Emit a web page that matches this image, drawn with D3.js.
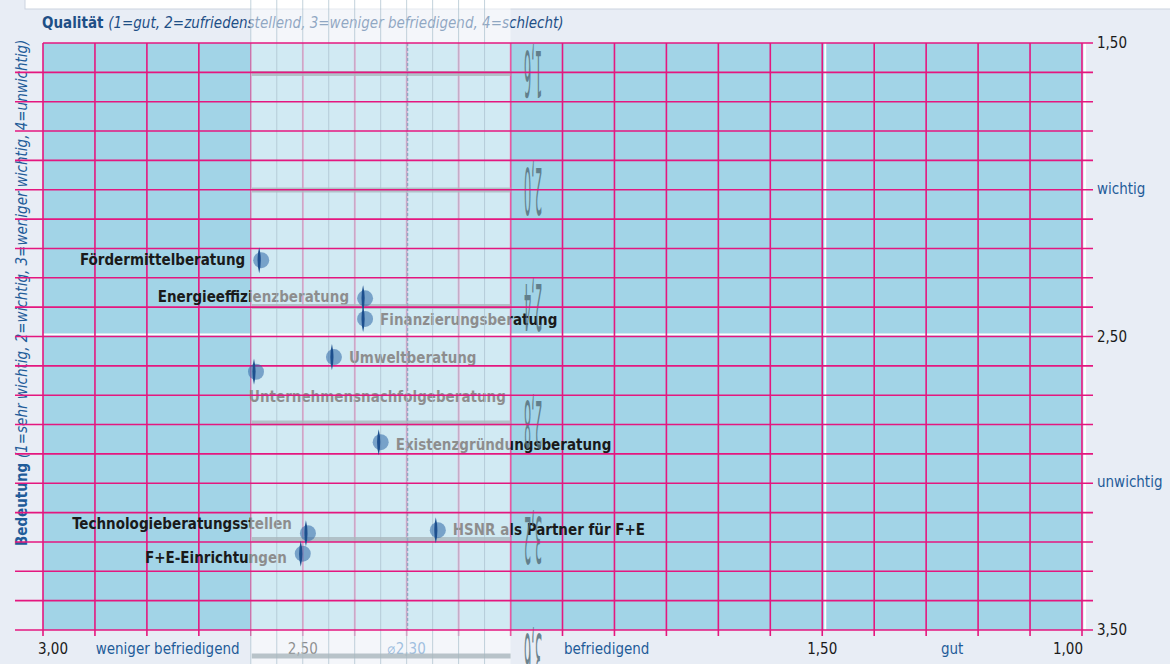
<!DOCTYPE html>
<html>
<head>
<meta charset="utf-8">
<script src="https://cdn.jsdelivr.net/npm/d3@7"></script>
<style>
  body { margin: 0; background: #e8edf5; }
  svg { display: block; }
  text { font-family: "DejaVu Sans Condensed", "DejaVu Sans", sans-serif; }
</style>
</head>
<body>
<div id="chart"></div>
<script>
// values
var services = ["Fördermittelberatung", "Energieeffizienzberatung", "Finanzierungsberatung",
    "Umweltberatung", "Unternehmensnachfolgeberatung", "Existenzgründungsberatung",
    "Technologieberatungsstellen", "F+E-Einrichtungen", "HSNR als Partner für F+E"];
var quality    = [2.58, 2.38, 2.38, 2.44, 2.59, 2.35, 2.49, 2.50, 2.24];
var importance = [2.24, 2.37, 2.44, 2.57, 2.62, 2.86, 3.17, 3.24, 3.16];
var qualityAvg = 2.30;

var xTickValues = [3.0, 2.5, 1.5, 1.0];
var xTickText   = ["3,00", "2,50", "1,50", "1,00"];
var xCatText = ["weniger befriedigend", "befriedigend", "gut"];
var xCatAt   = [2.76, 1.915, 1.25];

var yTickValues = [1.5, 2.5, 3.5];
var yTickText   = ["1,50", "2,50", "3,50"];
var yCatText = ["wichtig", "unwichtig"];
var yCatAt   = [2.0, 3.0];

// ghost panel in the middle (band of an other chart lying over this one)
var bandRange = [2.6, 2.1];
var ghostText = ["1,6", "2,0", "2,4", "2,8", "3,2", "3,6"];
var ghostAt   = [1.6, 2.0, 2.4, 2.8, 3.2, 3.6];

// label placement: side of the dot and small vertical nudge
var labelSide  = ["left", "left", "right", "right", "below", "right", "left", "left", "right"];
var labelNudge = [0, -1, 1, 1, 0, 3, -9, 4, 0];

var W = 1170, H = 664;
var magenta = "#e4177f", blueText = "#1f5c99";

var svg = d3.select("#chart").append("svg")
    .attr("width", W).attr("height", H);

var x = d3.scaleLinear().domain([3, 1]).range([43, 1082]);
var y = d3.scaleLinear().domain([1.5, 3.5]).range([43, 630]);
var gy = d3.scaleLinear().domain([1.6, 3.6]).range([73.5, 656]);

var data = services.map(function(s, i) {
    return {name: s, q: quality[i], b: importance[i], side: labelSide[i], dy: labelNudge[i]};
});

// top box (cut off element above)
svg.append("rect")
    .attr("x", 25).attr("y", -2).attr("width", W).attr("height", 11)
    .attr("fill", "#ffffff").attr("stroke", "#cbd3df");

// plot background
svg.append("rect")
    .attr("x", x(3)).attr("y", y(1.5))
    .attr("width", x(1) - x(3)).attr("height", y(3.5) - y(1.5))
    .attr("fill", "#a2d4e7");

// white major lines
[1.5, 1.0].forEach(function(v) {
    svg.append("line")
        .attr("x1", x(v) + 3).attr("x2", x(v) + 3)
        .attr("y1", y(1.5)).attr("y2", y(3.5))
        .attr("stroke", "#ffffff").attr("stroke-width", 2);
});
svg.append("line")
    .attr("x1", x(3)).attr("x2", x(1))
    .attr("y1", y(2.5) - 2).attr("y2", y(2.5) - 2)
    .attr("stroke", "#ffffff").attr("stroke-width", 2);

// vertical grid + ticks below
svg.append("g").selectAll("line")
    .data(x.ticks(20))
    .enter().append("line")
    .attr("x1", function(d) { return x(d); })
    .attr("x2", function(d) { return x(d); })
    .attr("y1", y(1.5)).attr("y2", y(3.5) + 6)
    .attr("stroke", magenta).attr("stroke-width", 1.6);

// title
var title = svg.append("text")
    .attr("x", 42).attr("y", 28)
    .attr("font-size", 15).attr("fill", "#1e4f86");
title.append("tspan").attr("font-weight", "bold").text("Qualität ");
title.append("tspan").attr("font-style", "italic").text("(1=gut, 2=zufriedenstellend, 3=weniger befriedigend, 4=schlecht)");

var ytitle = svg.append("text")
    .attr("transform", "translate(27," + 546 + ") rotate(-90)")
    .attr("font-size", 15).attr("fill", blueText);
ytitle.append("tspan").attr("font-weight", "bold").text("Bedeutung ");
ytitle.append("tspan").attr("font-style", "italic").text("(1=sehr wichtig, 2=wichtig, 3=weniger wichtig, 4=unwichtig)");

// bottom labels
svg.append("g").selectAll("text")
    .data(xTickValues)
    .enter().append("text")
    .attr("x", function(d) { return x(d); })
    .attr("y", 654)
    .attr("font-size", 15)
    .attr("fill", "#1a1a1a")
    .attr("text-anchor", function(d, i) { return i == 0 ? "start" : (i == xTickValues.length - 1 ? "end" : "middle"); })
    .attr("dx", function(d, i) { return i == 0 ? -5 : (i == xTickValues.length - 1 ? 1 : 0); })
    .text(function(d, i) { return xTickText[i]; });

svg.append("g").selectAll("text")
    .data(xCatAt)
    .enter().append("text")
    .attr("x", function(d) { return x(d); })
    .attr("y", 654)
    .attr("font-size", 15)
    .attr("fill", blueText)
    .attr("text-anchor", "middle")
    .text(function(d, i) { return xCatText[i]; });

svg.append("text")
    .attr("x", x(qualityAvg)).attr("y", 654)
    .attr("font-size", 15).attr("fill", "#3f7fc0")
    .attr("text-anchor", "middle")
    .text("\u2300" + d3.format(".2f")(qualityAvg).replace(".", ","));

// right labels
svg.append("g").selectAll("text")
    .data(yTickValues)
    .enter().append("text")
    .attr("x", 1097)
    .attr("y", function(d) { return y(d) + 5; })
    .attr("font-size", 15).attr("fill", "#1a1a1a")
    .text(function(d, i) { return yTickText[i]; });

svg.append("g").selectAll("text")
    .data(yCatAt)
    .enter().append("text")
    .attr("x", 1097)
    .attr("y", function(d) { return y(d) + 4; })
    .attr("font-size", 15).attr("fill", blueText)
    .text(function(d, i) { return yCatText[i]; });

// point labels
svg.append("g").selectAll("text")
    .data(data)
    .enter().append("text")
    .attr("x", function(d) {
        if (d.side == "left") return x(d.q) - 16;
        if (d.side == "right") return x(d.q) + 15;
        return x(d.q) - 7;
    })
    .attr("y", function(d) { return y(d.b) + d.dy + (d.side == "below" ? 30 : 5); })
    .attr("text-anchor", function(d) { return d.side == "left" ? "end" : "start"; })
    .attr("font-size", 15).attr("font-weight", "bold")
    .attr("fill", "#1a1a1a")
    .text(function(d) { return d.name; });

// ghost panel
var band = svg.append("g");
band.append("rect")
    .attr("x", x(bandRange[0])).attr("y", 0)
    .attr("width", x(bandRange[1]) - x(bandRange[0])).attr("height", H)
    .attr("fill", "#ffffff").attr("fill-opacity", 0.5);

band.selectAll(".bl")
    .data(d3.range(bandRange[1] + 0.05, bandRange[0], 0.05))
    .enter().append("line")
    .attr("x1", function(d) { return x(d); })
    .attr("x2", function(d) { return x(d); })
    .attr("y1", 0).attr("y2", H)
    .attr("stroke", "#a9bfcc").attr("stroke-width", 1).attr("stroke-opacity", 0.7);

band.selectAll(".bar")
    .data(ghostAt)
    .enter().append("rect")
    .attr("x", x(bandRange[0]) + 1)
    .attr("y", function(d) { return gy(d) - 2.5; })
    .attr("width", x(bandRange[1]) - x(bandRange[0]) - 1)
    .attr("height", 5)
    .attr("fill", "#a9b6bd").attr("fill-opacity", 0.8);

band.selectAll(".gt")
    .data(ghostAt)
    .enter().append("text")
    .attr("transform", function(d) { return "translate(533," + gy(d) + ") scale(-0.2,-1)"; })
    .attr("text-anchor", "middle")
    .attr("dominant-baseline", "central")
    .attr("font-size", 64)
    .attr("fill", "#55707c")
    .attr("fill-opacity", 0.85)
    .text(function(d, i) { return ghostText[i]; });

// average line
svg.append("line")
    .attr("x1", x(qualityAvg) + 1).attr("x2", x(qualityAvg) + 1)
    .attr("y1", y(1.5)).attr("y2", y(3.5))
    .attr("stroke", "#8ea7c2").attr("stroke-width", 1.2)
    .attr("stroke-dasharray", "3,2");

// horizontal grid on top, with ticks both sides
svg.append("g").selectAll("line")
    .data(y.ticks(20))
    .enter().append("line")
    .attr("x1", function(d) { return d == 1.5 ? x(3) : 15; })
    .attr("x2", x(1) + 11)
    .attr("y1", function(d) { return y(d); })
    .attr("y2", function(d) { return y(d); })
    .attr("stroke", magenta).attr("stroke-width", 1.6);

// dots
var dots = svg.append("g");
dots.selectAll("circle")
    .data(data)
    .enter().append("circle")
    .attr("cx", function(d) { return x(d.q); })
    .attr("cy", function(d) { return y(d.b); })
    .attr("r", 8)
    .attr("fill", "#2d66a6").attr("fill-opacity", 0.55);

dots.selectAll("path")
    .data(data)
    .enter().append("path")
    .attr("d", function(d) {
        var cx = x(d.q) - 2, cy = y(d.b);
        return "M" + cx + "," + (cy - 13) +
            "Q" + (cx + 3.2) + "," + cy + " " + cx + "," + (cy + 13) +
            "Q" + (cx - 3.2) + "," + cy + " " + cx + "," + (cy - 13) + "Z";
    })
    .attr("fill", "#1d4f8e");
</script>
</body>
</html>
